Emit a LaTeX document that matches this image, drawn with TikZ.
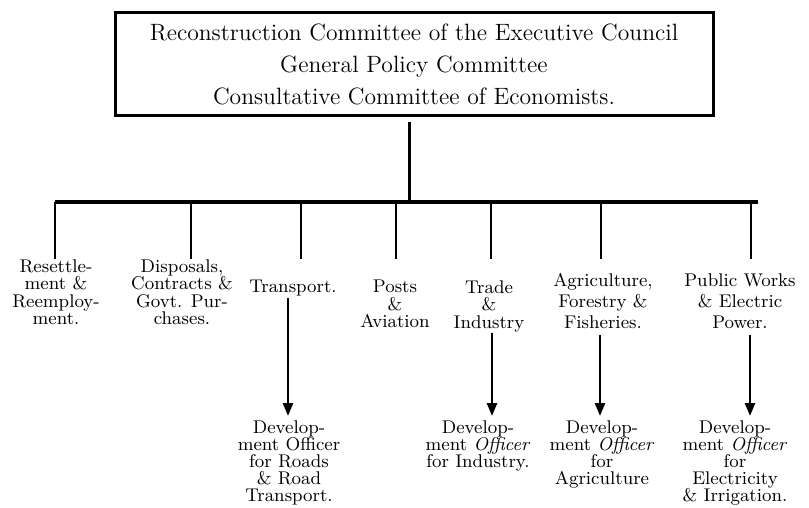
\documentclass[tikz,border=0pt]{standalone}
\usetikzlibrary{arrows.meta}

\tikzset{
    head/.style={draw, line width=1.5pt, align=center, minimum width=299pt, minimum height=51.5pt, font=\fontsize{11.8}{16}\selectfont},
    branch/.style={align=center, anchor=north, inner sep=1pt, font=\fontsize{9.2}{8.75}\selectfont},
    widebranch/.style={branch, font=\fontsize{9.2}{10.6}\selectfont},
    officer/.style={align=center, anchor=north, inner sep=2pt, font=\fontsize{9.2}{8.5}\selectfont},
    bus/.style={line width=1.5pt},
    drop/.style={line width=0.6pt},
    feed/.style={line width=1.3pt, -{Triangle[length=6.5pt,width=5pt]}}
}

\begin{document}
\begin{tikzpicture}[x=0.5pt, y=-0.5pt]
            \useasboundingbox (0,0) rectangle (809,508);

            \node [head] (top) at (414,64.5) {Reconstruction Committee of the Executive Council\\General Policy Committee\\Consultative Committee of Economists.};

            \coordinate (stem) at (409,122);
            \coordinate (busL) at (55,202); \coordinate (busR) at (758,202);
            \draw [bus] (busL) -- (busR);
            \draw [bus] (stem) -- (stem |- busL);

            \node [branch] (rese) at (56,257) {Resettle-\\ment \&\\Reemploy-\\ment.};
            \node [branch] (disp) at (182,257) {Disposals,\\Contracts \&\\Govt. Pur-\\chases.};
            \node [branch] (trans) at (293,278) {Transport.};
            \node [branch] (posts) at (395,278) {Posts\\\&\\Aviation};
            \node [branch] (trade) at (489,278) {Trade\\\&\\Industry};
            \node [widebranch] (agri) at (603,271) {Agriculture,\\Forestry \&\\Fisheries.};
            \node [widebranch] (works) at (740,271) {Public Works\\\& Electric\\Power.};

            \coordinate (d1) at (55,202); \coordinate (d2) at (191,202); \coordinate (d3) at (301,202);
            \coordinate (d4) at (396,202); \coordinate (d5) at (491,202); \coordinate (d6) at (601,202);
            \coordinate (d7) at (751,202);
            \coordinate (low) at (0,259);

            \draw [drop] (d1) -- (d1 |- low); \draw [drop] (d2) -- (d2 |- low);
            \draw [drop] (d3) -- (d3 |- low); \draw [drop] (d4) -- (d4 |- low);
            \draw [drop] (d5) -- (d5 |- low); \draw [drop] (d6) -- (d6 |- low);
            \draw [drop] (d7) -- (d7 |- low);

            \node [officer] (devroads) at (289,416) {Develop-\\ment Officer\\for Roads\\\& Road\\Transport.};
            \node [officer] (devind) at (478,416) {Develop-\\ment \textit{Officer}\\for Industry.};
            \node [officer] (devagri) at (602,416) {Develop-\\ment \textit{Officer}\\for\\Agriculture};
            \node [officer] (develec) at (735,416) {Develop-\\ment \textit{Officer}\\for\\Electricity\\\& Irrigation.};

            \coordinate (a1) at (288,298); \coordinate (a2) at (492,333);
            \coordinate (a3) at (600,335); \coordinate (a4) at (750,335);

            \draw [feed] (a1) -- (a1 |- devroads.north); \draw [feed] (a2) -- (a2 |- devind.north);
            \draw [feed] (a3) -- (a3 |- devagri.north); \draw [feed] (a4) -- (a4 |- develec.north);
        \end{tikzpicture}
\end{document}
